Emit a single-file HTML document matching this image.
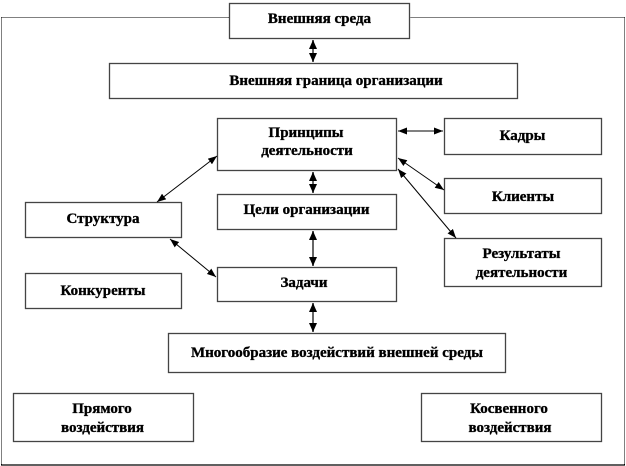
<!DOCTYPE html>
<html><head><meta charset="utf-8"><style>
html,body{margin:0;padding:0;background:#fff;}
svg{display:block;}
text{font-family:"Liberation Serif","DejaVu Serif",serif;font-weight:bold;font-size:15px;fill:#000;stroke:#000;stroke-width:0.35px;}
</style></head><body>
<svg width="626" height="466" viewBox="0 0 626 466" xmlns="http://www.w3.org/2000/svg">
<defs>
<marker id="ah" markerUnits="userSpaceOnUse" markerWidth="10" markerHeight="8" refX="9" refY="4" orient="auto-start-reverse">
<path d="M0,0 L9,4 L0,8 Z" fill="#000"/>
</marker>
<marker id="as" markerUnits="userSpaceOnUse" markerWidth="10" markerHeight="7" refX="9" refY="3.5" orient="auto-start-reverse">
<path d="M0,0 L9,3.5 L0,7 Z" fill="#000"/>
</marker>
</defs>
<!-- outer border -->
<line x1="1.5" y1="17.5" x2="624.5" y2="17.5" stroke="#000" stroke-width="1" stroke-dasharray="1,1"/>
<line x1="1.5" y1="17.5" x2="1.5" y2="465" stroke="#000" stroke-width="1" stroke-dasharray="1,1"/>
<line x1="624.5" y1="17.5" x2="624.5" y2="465" stroke="#000" stroke-width="1" stroke-dasharray="1,1"/>
<line x1="1" y1="465" x2="625" y2="465" stroke="#000" stroke-width="1.2"/>

<g fill="#fff" stroke="#444" stroke-width="1.3">
<rect x="229.5" y="3.5" width="180" height="35"/>
<rect x="109.5" y="63.5" width="408" height="35"/>
<rect x="217.5" y="118.5" width="179" height="52"/>
<rect x="217.5" y="194.5" width="179" height="35"/>
<rect x="217.5" y="267.5" width="179" height="34"/>
<rect x="25.5" y="202.5" width="156" height="35"/>
<rect x="25.5" y="273.5" width="156" height="35"/>
<rect x="444.5" y="118.5" width="157" height="36"/>
<rect x="444.5" y="178.5" width="157" height="35"/>
<rect x="444.5" y="238.5" width="157" height="48"/>
<rect x="168.5" y="333.5" width="337" height="39"/>
<rect x="13.5" y="393.5" width="180" height="48"/>
<rect x="421.5" y="393.5" width="180" height="48"/>
</g>

<!-- vertical arrows -->
<g stroke="#666" stroke-width="2" fill="none">
<line x1="313" y1="40" x2="313" y2="62" marker-start="url(#ah)" marker-end="url(#ah)"/>
<line x1="313" y1="172" x2="313" y2="193" marker-start="url(#ah)" marker-end="url(#ah)"/>
<line x1="313" y1="231" x2="313" y2="266" marker-start="url(#ah)" marker-end="url(#ah)"/>
<line x1="313" y1="303" x2="313" y2="332" marker-start="url(#ah)" marker-end="url(#ah)"/>
</g>
<!-- thin arrows -->
<g stroke="#000" stroke-width="1" fill="none">
<line x1="398" y1="131" x2="443" y2="131" marker-start="url(#as)" marker-end="url(#as)"/>
<line x1="398" y1="158" x2="444" y2="190" marker-start="url(#as)" marker-end="url(#as)"/>
<line x1="398" y1="169" x2="456" y2="238" marker-start="url(#as)" marker-end="url(#as)"/>
<line x1="157" y1="202" x2="217" y2="156" marker-start="url(#as)" marker-end="url(#as)"/>
<line x1="170" y1="239" x2="216" y2="277" marker-start="url(#as)" marker-end="url(#as)"/>
</g>

<g text-anchor="middle">
<text x="319.5" y="23">Внешняя среда</text>
<text x="336" y="85">Внешняя граница организации</text>
<text x="306" y="137">Принципы</text>
<text x="307" y="155">деятельности</text>
<text x="306.5" y="214">Цели организации</text>
<text x="304" y="287">Задачи</text>
<text x="103" y="223">Структура</text>
<text x="103" y="295">Конкуренты</text>
<text x="522.5" y="140">Кадры</text>
<text x="523" y="201">Клиенты</text>
<text x="521.5" y="258">Результаты</text>
<text x="521.5" y="277">деятельности</text>
<text x="337" y="357">Многообразие воздействий внешней среды</text>
<text x="102" y="413">Прямого</text>
<text x="102.5" y="432">воздействия</text>
<text x="509" y="413">Косвенного</text>
<text x="510" y="432">воздействия</text>
</g>
</svg>
</body></html>
